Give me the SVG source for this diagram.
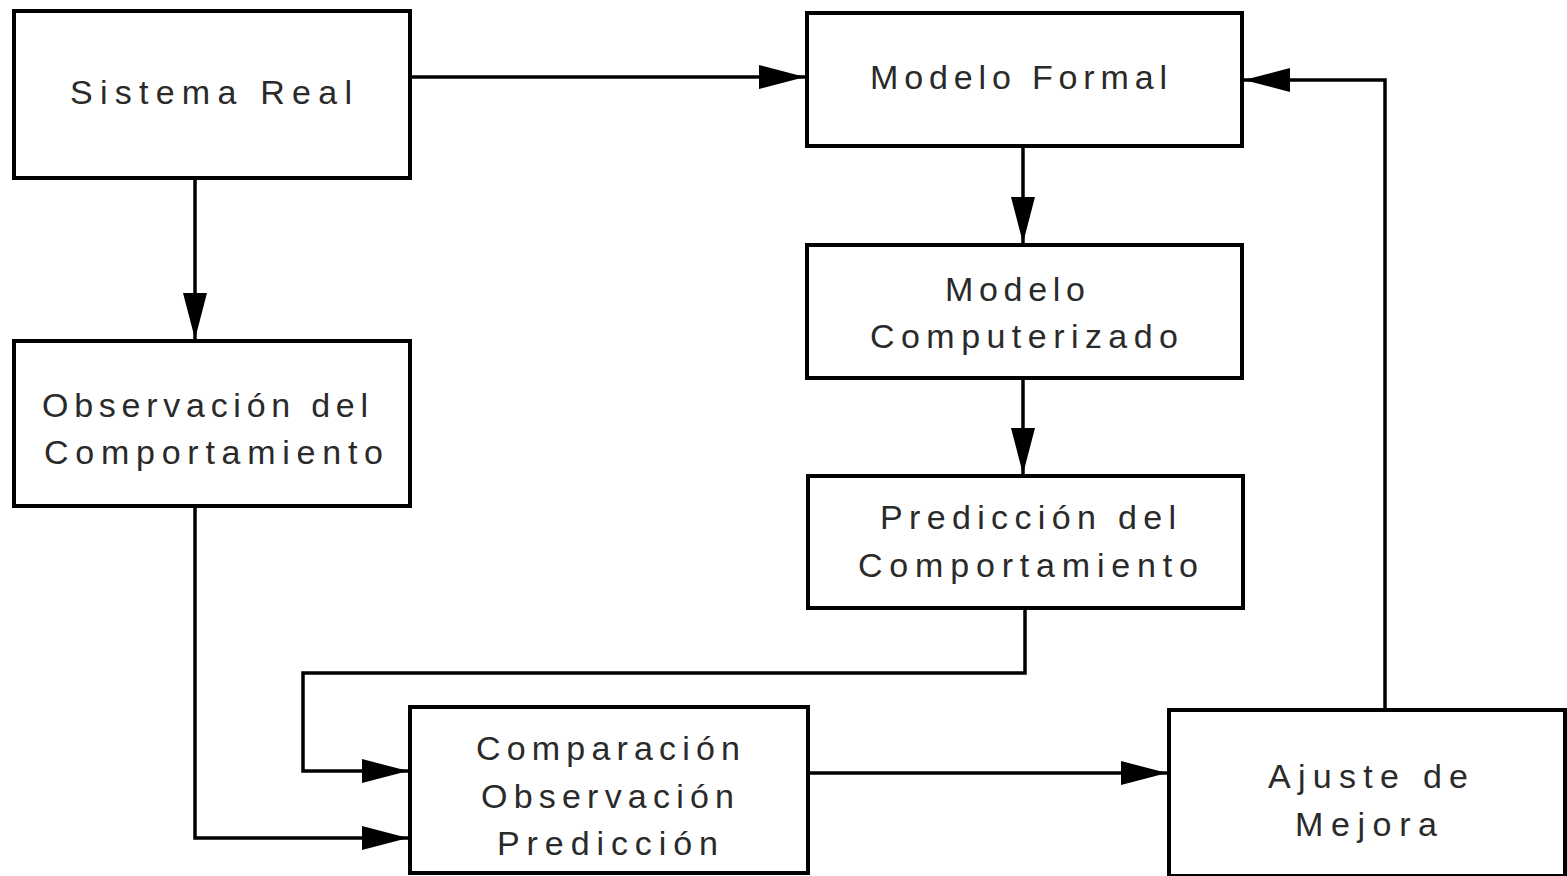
<svg xmlns="http://www.w3.org/2000/svg" width="1567" height="876" viewBox="0 0 1567 876">
<style>
.box{fill:#fff;stroke:#000;stroke-width:4}
.lbl{font-family:"Liberation Sans",Arial,sans-serif;font-size:34px;fill:#2a2a2a}
.con{fill:none;stroke:#000;stroke-width:3.5}
</style>
<defs>
<marker id="ah" viewBox="0 0 46 24" refX="46" refY="12" markerWidth="46" markerHeight="24" markerUnits="userSpaceOnUse" orient="auto">
<path d="M0,0 L46,12 L0,24 Z" fill="#000"/>
</marker>
</defs>
<rect width="1567" height="876" fill="#fff"/>
<g id="connectors">
<path class="con" d="M410,77 H805" marker-end="url(#ah)"/>
<path class="con" d="M195,178 V339" marker-end="url(#ah)"/>
<path class="con" d="M1023,146 V243" marker-end="url(#ah)"/>
<path class="con" d="M1023,378 V474" marker-end="url(#ah)"/>
<path class="con" d="M1025,608 V673 H303 V771 H408" marker-end="url(#ah)"/>
<path class="con" d="M195,506 V838 H408" marker-end="url(#ah)"/>
<path class="con" d="M808,773 H1167" marker-end="url(#ah)"/>
<path class="con" d="M1385,710 V80 H1244" marker-end="url(#ah)"/>
</g>
<g id="sistema-real">
<rect class="box" x="14" y="11" width="396" height="167"/>
<text class="lbl" x="70" y="104" textLength="282" lengthAdjust="spacing">Sistema  Real</text>
</g>
<g id="modelo-formal">
<rect class="box" x="807" y="13" width="435" height="133"/>
<text class="lbl" x="870" y="89" textLength="297" lengthAdjust="spacing">Modelo Formal</text>
</g>
<g id="modelo-computerizado">
<rect class="box" x="807" y="245" width="435" height="133"/>
<text class="lbl" x="945" y="301" textLength="140" lengthAdjust="spacing">Modelo</text>
<text class="lbl" x="870" y="348" textLength="308" lengthAdjust="spacing">Computerizado</text>
</g>
<g id="prediccion-comportamiento">
<rect class="box" x="808" y="476" width="435" height="132"/>
<text class="lbl" x="880" y="529" textLength="296" lengthAdjust="spacing">Predicción del</text>
<text class="lbl" x="858" y="577" textLength="340" lengthAdjust="spacing">Comportamiento</text>
</g>
<g id="observacion-comportamiento">
<rect class="box" x="14" y="341" width="396" height="165"/>
<text class="lbl" x="42" y="417" textLength="326" lengthAdjust="spacing">Observación del</text>
<text class="lbl" x="44" y="464" textLength="339" lengthAdjust="spacing">Comportamiento</text>
</g>
<g id="comparacion">
<rect class="box" x="410" y="707" width="398" height="166"/>
<text class="lbl" x="476" y="760" textLength="264" lengthAdjust="spacing">Comparación</text>
<text class="lbl" x="481" y="808" textLength="253" lengthAdjust="spacing">Observación</text>
<text class="lbl" x="497" y="855" textLength="221" lengthAdjust="spacing">Predicción</text>
</g>
<g id="ajuste-mejora">
<rect class="box" x="1169" y="710" width="396" height="166"/>
<text class="lbl" x="1268" y="788" textLength="200" lengthAdjust="spacing">Ajuste de</text>
<text class="lbl" x="1295" y="836" textLength="142" lengthAdjust="spacing">Mejora</text>
</g>
</svg>
